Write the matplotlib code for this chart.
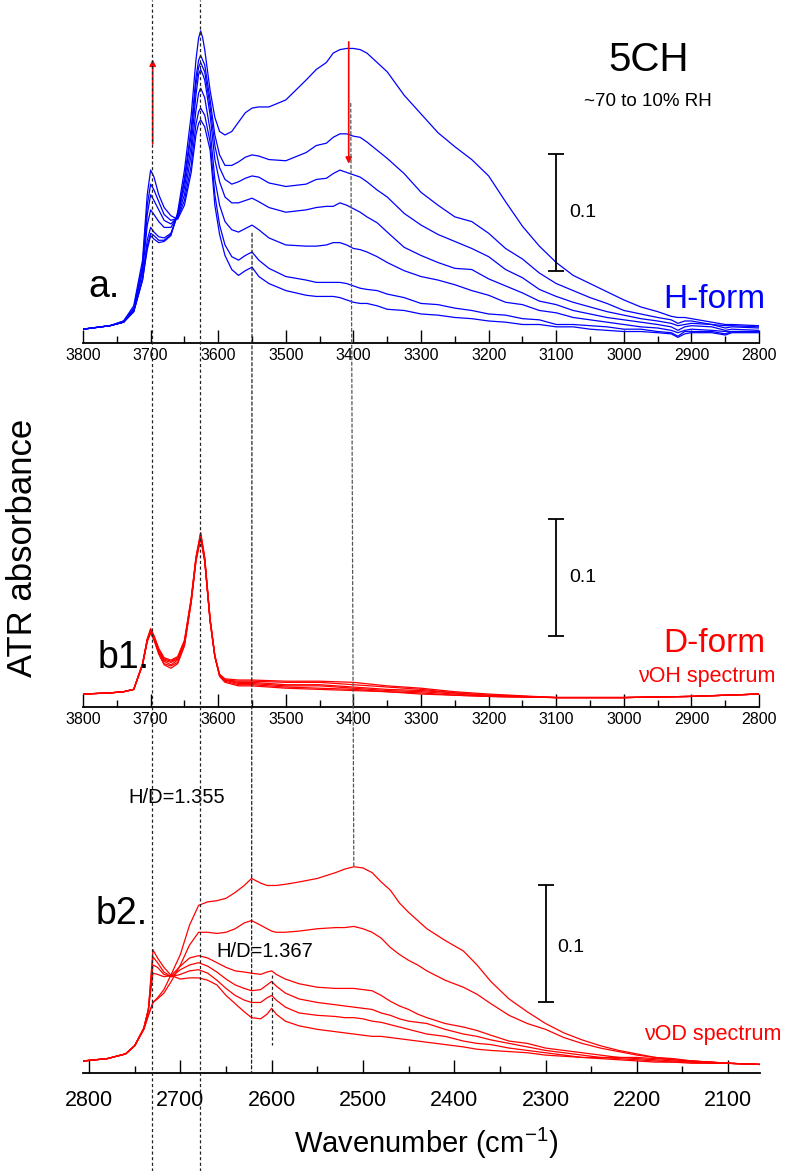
import matplotlib
matplotlib.use('Agg')
import matplotlib.pyplot as plt
import matplotlib.transforms as mtransforms
from matplotlib.lines import Line2D
from matplotlib.patches import ConnectionPatch
from matplotlib.ticker import MultipleLocator

plt.rcParams['font.family'] = ['Liberation Sans', 'DejaVu Sans']
plt.rcParams['mathtext.default'] = 'regular'

# ---- panel a: H-form, 7 spectra from ~70% RH (first) to ~10% RH (last), absorbance in mAbs
WN_A = [3800, 3760, 3740, 3725, 3712, 3705, 3700, 3695, 3688, 3680,
        3670, 3660, 3650, 3640, 3633, 3629, 3626, 3623, 3620, 3612,
        3605, 3598, 3590, 3580, 3570, 3560, 3550, 3540, 3525, 3500,
        3470, 3455, 3440, 3430, 3420, 3410, 3400, 3390, 3380, 3365,
        3350, 3325, 3300, 3275, 3250, 3225, 3200, 3175, 3150, 3125,
        3100, 3075, 3050, 3025, 3000, 2975, 2950, 2930, 2920, 2910,
        2900, 2870, 2850, 2840, 2800]
H_RH1 = [-1, 2, 5, 14, 41, 67, 79, 76, 73, 74,
         79, 99, 135, 182, 229, 248, 254, 248, 238, 203,
         180, 168, 165, 168, 176, 184, 188, 189, 189, 195,
         212, 221, 227, 235, 238, 239, 239, 238, 235, 227,
         219, 199, 183, 167, 155, 144, 130, 108, 87, 70,
         56, 45, 38, 31, 24, 18, 14, 10, 9, 9,
         8, 5, 3, 3, 2]
H_RH2 = [-1, 2, 5, 14, 41, 70, 81, 79, 75, 75,
         80, 97, 128, 171, 214, 229, 233, 229, 225, 195,
         165, 148, 139, 139, 142, 146, 148, 147, 144, 143,
         150, 156, 158, 163, 166, 166, 164, 163, 159, 152,
         145, 132, 116, 105, 95, 91, 81, 68, 59, 47,
         38, 32, 26, 21, 15, 12, 9, 7, 4, 6,
         6, 3, 2, 2, 1]
H_RH3 = [-1, 2, 5, 14, 43, 75, 86, 82, 78, 77,
         81, 97, 125, 165, 208, 223, 227, 223, 219, 189,
         156, 137, 127, 123, 125, 128, 130, 129, 124, 121,
         123, 127, 128, 132, 135, 133, 131, 129, 125, 118,
         112, 98, 88, 80, 74, 68, 61, 50, 43, 33,
         27, 22, 18, 14, 11, 8, 6, 4, 2, 3,
         4, 3, 0, 1, 0]
H_RH4 = [-1, 2, 5, 15, 48, 88, 101, 97, 91, 86,
         86, 96, 120, 156, 199, 217, 221, 217, 212, 182,
         144, 125, 112, 107, 107, 109, 111, 108, 103, 99,
         101, 103, 104, 104, 107, 105, 102, 99, 95, 90,
         82, 69, 62, 56, 51, 50, 42, 36, 30, 23,
         20, 15, 12, 9, 7, 5, 3, 1, -2, 1,
         2, 1, -2, -1, -2]
H_RH5 = [-1, 2, 5, 16, 51, 97, 114, 109, 101, 92,
         89, 95, 114, 148, 186, 201, 205, 201, 197, 169,
         127, 105, 91, 84, 82, 85, 88, 84, 77, 71,
         70, 70, 71, 73, 73, 71, 68, 67, 65, 61,
         56, 49, 44, 41, 37, 32, 28, 22, 20, 15,
         13, 9, 7, 5, 3, 1, 0, -2, -4, -2,
         -1, -2, -3, -3, -3]
H_RH6 = [-1, 2, 6, 17, 54, 105, 123, 118, 108, 97,
         92, 94, 109, 139, 174, 185, 188, 185, 182, 159,
         114, 88, 71, 61, 58, 62, 65, 58, 51, 44,
         41, 39, 39, 39, 39, 38, 36, 34, 33, 32,
         29, 26, 21, 20, 17, 15, 12, 11, 8, 7,
         3, 3, 2, 1, -1, -1, -3, -4, -7, -3,
         -3, -3, -5, -3, -3]
H_RH7 = [-1, 2, 6, 19, 58, 114, 135, 129, 114, 103,
         96, 93, 105, 133, 165, 175, 178, 175, 172, 152,
         105, 80, 62, 50, 45, 49, 52, 44, 38, 32,
         28, 27, 27, 27, 26, 24, 22, 21, 21, 19,
         16, 15, 12, 11, 9, 8, 6, 5, 3, 3,
         1, 1, -1, -2, -3, -3, -4, -5, -8, -5,
         -4, -4, -6, -4, -4]

# ---- panel b1: D-form, nuOH region
WN_B1 = [3800, 3760, 3740, 3725, 3712, 3705, 3700, 3695, 3688, 3680,
         3670, 3660, 3650, 3640, 3633, 3626, 3620, 3612, 3605, 3598,
         3590, 3570, 3550, 3500, 3450, 3400, 3350, 3300, 3250, 3200,
         3100, 3000, 2900, 2800]
D_OH1 = [0, 1, 2, 4, 25, 45, 52, 46, 34, 25, 22, 26, 41, 78, 113, 133, 113, 62, 32, 17,
         13, 12, 12, 11, 11, 10, 7, 5, 2, 0, -3, -3, -2, 0]
D_OH2 = [0, 1, 2, 4, 25, 45, 53, 47, 35, 26, 24, 27, 42, 79, 114, 134, 114, 62, 32, 16,
         12, 11, 11, 10, 10, 8, 6, 4, 1, -1, -3, -3, -2, 0]
D_OH3 = [0, 1, 2, 4, 25, 46, 54, 48, 36, 28, 25, 29, 43, 80, 115, 135, 115, 63, 32, 16,
         12, 10, 10, 8, 8, 6, 4, 3, 1, -1, -3, -3, -2, 0]
D_OH4 = [0, 1, 2, 4, 25, 46, 54, 48, 37, 29, 27, 30, 44, 80, 115, 136, 115, 63, 32, 16,
         12, 9, 9, 7, 7, 5, 3, 2, 0, -2, -3, -3, -2, 0]
D_OH5 = [0, 1, 2, 4, 26, 47, 55, 49, 38, 30, 28, 31, 45, 81, 116, 137, 116, 64, 33, 16,
         11, 8, 8, 6, 5, 4, 2, 1, -1, -2, -3, -3, -2, 0]
D_OH6 = [0, 1, 2, 4, 26, 47, 56, 50, 39, 31, 29, 32, 46, 82, 117, 138, 117, 64, 33, 15,
         10, 7, 7, 5, 4, 3, 2, 0, -1, -2, -3, -3, -2, 0]

# ---- panel b2: D-form, nuOD region
WN_B2 = [2806, 2780, 2760, 2750, 2740, 2735, 2730, 2725, 2718, 2710,
         2700, 2690, 2680, 2670, 2660, 2650, 2640, 2630, 2622, 2612,
         2605, 2600, 2595, 2585, 2570, 2550, 2530, 2520, 2510, 2500,
         2490, 2480, 2470, 2460, 2450, 2440, 2430, 2410, 2390, 2375,
         2360, 2340, 2320, 2300, 2280, 2260, 2240, 2220, 2200, 2180,
         2160, 2140, 2120, 2100, 2065]
D_OD1 = [0, 2, 6, 13, 27, 39, 50, 54, 61, 74,
         91, 116, 133, 136, 137, 139, 144, 150, 156, 152,
         150, 150, 150, 151, 153, 156, 161, 164, 166, 165,
         161, 153, 146, 135, 127, 120, 113, 103, 94, 82,
         68, 53, 42, 32, 24, 18, 13, 9, 6, 3,
         2, 0, -1, -2, -3]
D_OD2 = [0, 2, 6, 13, 27, 39, 50, 53, 58, 68,
         82, 99, 110, 110, 109, 110, 113, 118, 120, 116,
         113, 111, 110, 110, 111, 113, 114, 114, 115, 113,
         110, 105, 97, 91, 86, 82, 77, 69, 63, 57,
         49, 39, 32, 27, 20, 15, 11, 8, 5, 3,
         1, 0, -1, -2, -3]
D_OD3 = [0, 2, 6, 13, 28, 44, 75, 74, 72, 73,
         81, 88, 90, 88, 84, 80, 77, 76, 75, 74,
         76, 77, 74, 70, 66, 63, 62, 62, 62, 61,
         60, 56, 51, 47, 44, 40, 37, 32, 29, 26,
         22, 17, 15, 11, 9, 7, 5, 3, 3, 2,
         1, 0, -1, -2, -3]
D_OD4 = [0, 2, 6, 13, 28, 44, 82, 80, 74, 72,
         78, 82, 84, 81, 76, 70, 65, 62, 60, 61,
         65, 68, 64, 58, 53, 50, 48, 47, 46, 45,
         44, 41, 39, 36, 34, 33, 32, 27, 23, 21,
         18, 15, 12, 9, 7, 5, 3, 3, 2, 1,
         0, -1, -1, -2, -3]
D_OD5 = [0, 2, 6, 13, 28, 44, 89, 84, 76, 72,
         74, 77, 78, 75, 69, 62, 56, 52, 50, 50,
         54, 56, 52, 46, 41, 39, 38, 37, 37, 36,
         34, 33, 31, 29, 27, 25, 23, 21, 17, 15,
         14, 11, 9, 7, 5, 3, 3, 2, 1, 0,
         -1, -1, -2, -2, -3]
D_OD6 = [0, 2, 6, 13, 28, 44, 95, 88, 80, 73,
         70, 71, 71, 69, 65, 56, 49, 42, 37, 36,
         40, 45, 40, 34, 30, 27, 25, 24, 23, 22,
         21, 21, 20, 19, 18, 17, 16, 14, 12, 10,
         9, 8, 7, 5, 4, 3, 2, 1, 0, -1,
         -1, -2, -2, -2, -3]

# band positions used for guide lines (cm-1)
GUIDES_H = [3698, 3627]
BAND_H_3550 = 3550
BAND_H_3404 = 3404
BAND_D_2622 = 2622
BAND_D_2510 = 2510
BAND_D_2600 = 2600

BLUE = '#0000ff'
RED = '#ff0000'


def style_axis(ax, xlim, ylim, labelsize, pad):
    ax.set_xlim(xlim)
    ax.set_ylim(ylim)
    for s in ['left', 'right', 'top']:
        ax.spines[s].set_visible(False)
    ax.spines['bottom'].set_linewidth(1.3)
    ax.set_yticks([])
    ax.xaxis.set_major_locator(MultipleLocator(100))
    ax.xaxis.set_minor_locator(MultipleLocator(50))
    ax.tick_params(axis='x', which='major', direction='in', length=9.5, width=1.0,
                   labelsize=labelsize, pad=pad)
    ax.tick_params(axis='x', which='minor', direction='in', length=5, width=1.0)
    ax.patch.set_alpha(0)


def mabs(vals):
    return [v / 1000 for v in vals]


fig = plt.figure(figsize=(7.87, 11.71), dpi=100)

ax_a = fig.add_axes([0.1055, 0.7071, 0.859, 0.2775])
ax_b1 = fig.add_axes([0.1055, 0.3962, 0.859, 0.1768])
ax_b2 = fig.add_axes([0.1055, 0.0837, 0.8603, 0.1904])

style_axis(ax_a, (3800, 2800), (-0.0128, 0.2650), 11.5, 3.5)
style_axis(ax_b1, (3800, 2800), (-0.0111, 0.1658), 11.5, 3.5)
style_axis(ax_b2, (2806.6, 2065), (-0.0103, 0.1803), 15.5, 12)

# spectra
for curve in [H_RH1, H_RH2, H_RH3, H_RH4, H_RH5, H_RH6, H_RH7]:
    ax_a.plot(WN_A, mabs(curve), color=BLUE, lw=0.9)
for curve in [D_OH1, D_OH2, D_OH3, D_OH4, D_OH5, D_OH6]:
    ax_b1.plot(WN_B1, mabs(curve), color=RED, lw=0.9)
for curve in [D_OD1, D_OD2, D_OD3, D_OD4, D_OD5, D_OD6]:
    ax_b2.plot(WN_B2, mabs(curve), color=RED, lw=0.9)

# 0.1 absorbance scale bars
bar_kw = dict(fmt='none', ecolor='black', elinewidth=1.3, capsize=6, capthick=1.3)
ax_a.errorbar([3100], [0.0987], yerr=0.05, **bar_kw)
ax_b1.errorbar([3100], [0.0996], yerr=0.05, **bar_kw)
ax_b2.errorbar([2300], [0.1004], yerr=0.05, **bar_kw)
ax_a.text(3081, 0.099, '0.1', fontsize=14, va='center')
ax_b1.text(3081, 0.100, '0.1', fontsize=14, va='center')
ax_b2.text(2287, 0.0966, '0.1', fontsize=14, va='center')

# humidity arrows
ax_a.annotate('', xy=(3697, 0.232), xytext=(3697, 0.155),
              arrowprops=dict(arrowstyle='-|>', color=RED, lw=1.2, mutation_scale=9))
ax_a.annotate('', xy=(3407, 0.138), xytext=(3407, 0.247),
              arrowprops=dict(arrowstyle='-|>', color=RED, lw=1.2, mutation_scale=9))

# labels inside panels
ax_a.text(2964, 0.229, '5CH', fontsize=29, ha='center', va='center')
ax_a.text(2964, 0.194, '~70 to 10% RH', fontsize=13.5, ha='center', va='center')
ax_a.text(3792, 0.0265, 'a.', fontsize=27, va='baseline')
ax_a.text(2791, 0.017, 'H-form', fontsize=24, color=BLUE, ha='right', va='baseline')

ax_b1.text(3778, 0.022, 'b1.', fontsize=27, va='baseline')
ax_b1.text(2791, 0.036, 'D-form', fontsize=24, color=RED, ha='right', va='baseline')
ax_b1.text(2776, 0.010, 'νOH spectrum', fontsize=15.5, color=RED, ha='right', va='baseline')

ax_b2.text(2793, 0.117, 'b2.', fontsize=27, va='baseline')
ax_b2.text(2757, 0.2248, 'H/D=1.355', fontsize=14.5, va='center')
ax_b2.text(2660, 0.0932, 'H/D=1.367', fontsize=14.5, va='center')
ax_b2.text(2042, 0.0180, 'νOD spectrum', fontsize=15.5, color=RED, ha='right', va='baseline')

# dotted guide lines through all panels
full = mtransforms.blended_transform_factory(ax_a.transData, fig.transFigure)
for wn in GUIDES_H:
    fig.add_artist(Line2D([wn, wn], [0, 1], transform=full, color='#222222',
                          lw=0.9, ls=(0, (2.5, 2))))
for (xa, ya, xb, yb, col) in [(BAND_H_3550, 0.081, BAND_D_2622, -0.0103, '#222222'),
                              (BAND_H_3404, 0.192, BAND_D_2510, 0.165, '#555555')]:
    fig.add_artist(ConnectionPatch(xyA=(xa, ya), coordsA=ax_a.transData,
                                   xyB=(xb, yb), coordsB=ax_b2.transData,
                                   color=col, lw=0.9, ls=(0, (2.5, 2))))
ax_b2.plot([BAND_D_2600, BAND_D_2600], [0.0735, 0.0137], color='#222222',
           lw=0.9, ls=(0, (2.5, 2)))

fig.text(0.029, 0.532, 'ATR absorbance', rotation=90, fontsize=25, ha='center', va='center')
fig.text(0.541, 0.0154, 'Wavenumber (cm$^{-1}$)', fontsize=21, ha='center', va='baseline')

fig.savefig('out.png', dpi=100)
